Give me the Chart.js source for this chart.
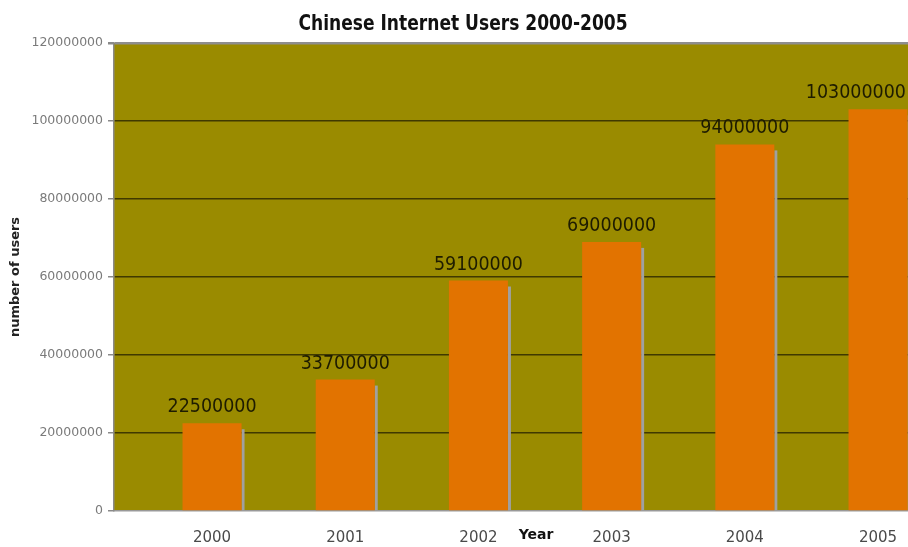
<!DOCTYPE html>
<html><head><meta charset="utf-8">
<script src="https://cdn.jsdelivr.net/npm/chart.js@4/dist/chart.umd.min.js"></script>
<style>html,body{margin:0;padding:0;background:#fff;overflow:hidden}#wrap{width:908px;height:547px}</style>
</head><body><div id="wrap"><canvas id="c" width="908" height="547"></canvas></div>
<script>
const chartTitle = 'Chinese Internet Users 2000-2005';
const xAxisTitle = 'Year';
const yAxisTitle = 'number of users';
const years = [2000, 2001, 2002, 2003, 2004, 2005];
const users = [22500000, 33700000, 59100000, 69000000, 94000000, 103000000];
const yTicks = [0, 20000000, 40000000, 60000000, 80000000, 100000000, 120000000];

const PLOT_BG = '#9a8b00';
const BAR = '#e27300';
const SHADOW = '#a0a0a0';

function stretchedText(ctx, txt, x, y, sy) {
  ctx.save();
  ctx.translate(x, y);
  ctx.scale(1, sy);
  ctx.fillText(txt, 0, 0);
  ctx.restore();
}

const plotBg = {
  id: 'plotBg',
  beforeDraw(chart) {
    const {ctx, chartArea: a} = chart;
    ctx.save();
    ctx.fillStyle = '#ffffff';
    ctx.fillRect(0, 0, chart.width, chart.height);
    ctx.fillStyle = PLOT_BG;
    ctx.fillRect(a.left, a.top, a.right - a.left, a.bottom - a.top);
    ctx.restore();
  }
};

const barShadow = {
  id: 'barShadow',
  beforeDatasetsDraw(chart) {
    const {ctx} = chart;
    const meta = chart.getDatasetMeta(0);
    ctx.save();
    ctx.fillStyle = SHADOW;
    meta.data.forEach(el => {
      const {x, y, base, width} = el.getProps(['x', 'y', 'base', 'width'], true);
      ctx.fillRect(x + width / 2, y + 6, 3, base - y - 6);
    });
    ctx.restore();
  }
};

const valueLabels = {
  id: 'valueLabels',
  afterDatasetsDraw(chart) {
    const {ctx} = chart;
    const meta = chart.getDatasetMeta(0);
    ctx.save();
    ctx.font = '17.5px "DejaVu Sans"';
    ctx.fillStyle = '#1e1c00';
    ctx.textAlign = 'center';
    ctx.textBaseline = 'alphabetic';
    meta.data.forEach((el, i) => {
      const {x, y} = el.getProps(['x', 'y'], true);
      const txt = String(users[i]);
      const w = ctx.measureText(txt).width;
      const cx = Math.min(x, chart.width - w / 2 - 2);
      stretchedText(ctx, txt, cx, y - 11, 1.12);
    });
    ctx.restore();
  }
};

const extraTitles = {
  id: 'extraTitles',
  afterDraw(chart) {
    const {ctx} = chart;
    const xs = chart.scales.x;
    ctx.save();
    ctx.fillStyle = '#111';
    ctx.textAlign = 'center';
    ctx.textBaseline = 'middle';
    ctx.font = 'bold 19px "DejaVu Sans Condensed"';
    stretchedText(ctx, chartTitle, 463, 24, 1.15);
    ctx.font = 'bold 14px "DejaVu Sans"';
    const mid = (xs.getPixelForValue(years[2]) + xs.getPixelForValue(years[3])) / 2 - 9;
    ctx.fillText(xAxisTitle, mid, 535);
    ctx.restore();
  }
};

new Chart(document.getElementById('c'), {
  type: 'bar',
  data: {
    datasets: [{
      data: years.map((y, i) => ({x: y, y: users[i]})),
      backgroundColor: BAR,
      borderWidth: 0,
      barPercentage: 0.443,
      categoryPercentage: 1
    }]
  },
  options: {
    responsive: false,
    animation: false,
    layout: {padding: {top: 43, left: 0, right: 0, bottom: 0}},
    plugins: {legend: {display: false}, title: {display: false}, tooltip: {enabled: false}},
    scales: {
      x: {
        type: 'linear',
        offset: false,
        min: 1999.264,
        max: 2005.225,
        afterBuildTicks: s => { s.ticks = years.map(v => ({value: v})); },
        afterFit: s => { s.height = 36; },
        grid: {display: false},
        border: {display: true, color: '#999', width: 1.5},
        ticks: {
          callback: v => String(v),
          padding: 10,
          font: {family: 'DejaVu Sans', size: 15},
          color: '#4a4a4a',
          maxRotation: 0,
          autoSkip: false
        }
      },
      y: {
        min: 0,
        max: 120000000,
        afterBuildTicks: s => { s.ticks = yTicks.map(v => ({value: v})); },
        afterFit: s => { s.width = 114; },
        grid: {
          color: c => c.tick && c.tick.value === 120000000 ? '#8e8e8e' : (c.tick && c.tick.value === 0 ? 'rgba(0,0,0,0)' : '#3f3900'),
          lineWidth: c => c.tick && c.tick.value === 120000000 ? 2.5 : 1.5,
          tickColor: '#8a8a8a',
          tickLength: 6
        },
        border: {display: true, color: '#8a8a8a', width: 1.5},
        ticks: {
          callback: v => String(v),
          padding: 5,
          font: {family: 'DejaVu Sans', size: 12.5},
          color: '#7a7a7a'
        },
        title: {
          display: true,
          text: yAxisTitle,
          font: {family: 'DejaVu Sans', size: 13, weight: 'bold'},
          color: '#222',
          padding: {top: 8, bottom: 0}
        }
      }
    }
  },
  plugins: [plotBg, barShadow, valueLabels, extraTitles]
});
</script>
</body></html>
